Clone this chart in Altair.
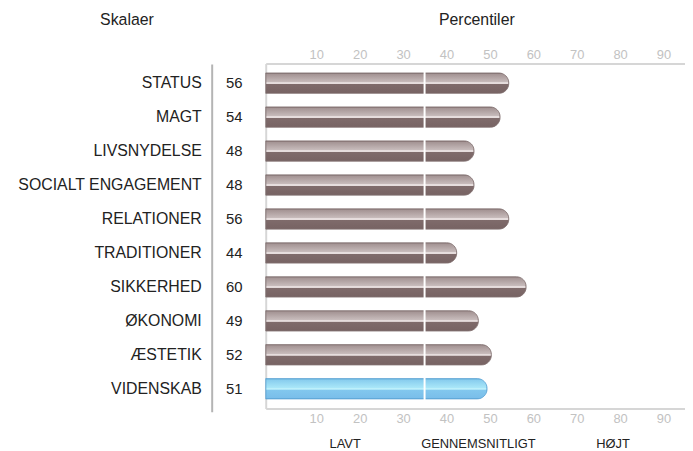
import altair as alt
import pandas as pd

categories = ["STATUS", "MAGT", "LIVSNYDELSE", "SOCIALT ENGAGEMENT", "RELATIONER",
              "TRADITIONER", "SIKKERHED", "ØKONOMI", "ÆSTETIK", "VIDENSKAB"]
values = [56, 54, 48, 48, 56, 44, 60, 49, 52, 51]
highlight = [False] * 9 + [True]
tick_values = [10, 20, 30, 40, 50, 60, 70, 80, 90]
band_labels = ["LAVT", "GENNEMSNITLIGT", "HØJT"]
band_centers = [18.3, 49.0, 80.0]
average_mark = 36.6

FONT = "Liberation Sans"

df = pd.DataFrame({"cat": categories, "val": values, "hl": highlight})
bands = pd.DataFrame({"label": band_labels, "pos": band_centers})

xscale = alt.Scale(domain=[0, 96.6], nice=False, zero=False)
yscale = alt.Scale(domain=categories, paddingInner=0.4, paddingOuter=0.28)

gray_grad = alt.Gradient(
    gradient="linear", x1=0, x2=0, y1=0, y2=1,
    stops=[
        alt.GradientStop(offset=0, color="#8e7e7e"),
        alt.GradientStop(offset=0.07, color="#a59595"),
        alt.GradientStop(offset=0.44, color="#c7bbbb"),
        alt.GradientStop(offset=0.47, color="#e6dddd"),
        alt.GradientStop(offset=0.53, color="#e6dddd"),
        alt.GradientStop(offset=0.56, color="#7f6b6b"),
        alt.GradientStop(offset=1, color="#776363"),
    ],
)
blue_grad = alt.Gradient(
    gradient="linear", x1=0, x2=0, y1=0, y2=1,
    stops=[
        alt.GradientStop(offset=0, color="#5aa8d8"),
        alt.GradientStop(offset=0.07, color="#88cdee"),
        alt.GradientStop(offset=0.44, color="#a8e6f8"),
        alt.GradientStop(offset=0.47, color="#bdf0fb"),
        alt.GradientStop(offset=0.53, color="#bdf0fb"),
        alt.GradientStop(offset=0.56, color="#82c7ee"),
        alt.GradientStop(offset=1, color="#79bde9"),
    ],
)

base = alt.Chart(df)

y_axis = alt.Axis(orient="left", labelPadding=65, ticks=False, labelLimit=0,
                  domainColor="#d6d6d6", domainWidth=2,
                  labelFont=FONT, labelFontSize=16, labelColor="#222222")
y_enc = alt.Y("cat:N", scale=yscale, sort=categories, title=None, axis=y_axis)

gray_bars = base.transform_filter("!datum.hl").mark_bar(
    fill=gray_grad, stroke="#806e6e", strokeWidth=0.8,
    cornerRadiusTopRight=10, cornerRadiusBottomRight=10,
).encode(
    x=alt.X("val:Q", scale=xscale, title=None,
            axis=alt.Axis(orient="top", values=tick_values, ticks=False, grid=False,
                          labelAlign="left", labelPadding=2, labelFont=FONT,
                          labelFontSize=13, labelColor="#c2c2c2",
                          domainColor="#d6d6d6", domainWidth=2)),
    y=y_enc,
)

blue_bars = base.transform_filter("datum.hl").mark_bar(
    fill=blue_grad, stroke="#5aa2d4", strokeWidth=0.8,
    cornerRadiusTopRight=10, cornerRadiusBottomRight=10,
).encode(
    x=alt.X("val:Q", scale=xscale, title=None,
            axis=alt.Axis(orient="bottom", values=tick_values, ticks=False, grid=False,
                          labelAlign="left", labelPadding=4, labelFont=FONT,
                          labelFontSize=13, labelColor="#c2c2c2",
                          domainColor="#d6d6d6", domainWidth=2)),
    y=y_enc,
)

avg_rule = alt.Chart(pd.DataFrame({"v": [average_mark]})).mark_rule(
    color="white", strokeWidth=2
).encode(
    x=alt.X("v:Q", scale=xscale, axis=None),
    y=alt.value(6), y2=alt.value(342),
)

numbers = base.mark_text(align="left", baseline="middle", font=FONT, fontSize=15,
                         color="#222222").encode(
    x=alt.value(-40),
    y=y_enc,
    text=alt.Text("val:Q"),
)

sep = alt.Chart(pd.DataFrame({"a": [0]})).mark_rule(color="#b4b4b4", strokeWidth=2).encode(
    x=alt.value(-54), y=alt.value(1), y2=alt.value(352),
)

band_text = alt.Chart(bands).mark_text(align="center", baseline="middle", font=FONT,
                                        fontSize=13, color="#222222").encode(
    x=alt.X("pos:Q", scale=xscale, axis=None),
    y=alt.value(384),
    text="label:N",
)

titles = alt.Chart(pd.DataFrame({"t": ["Skalaer", "Percentiler"], "px": [-140, 213]})).mark_text(
    align="center", baseline="middle", font=FONT, fontSize=16, color="#222222"
).encode(
    x=alt.X("px:Q", scale=None, axis=None),
    y=alt.value(-44),
    text="t:N",
)

chart = alt.layer(gray_bars, blue_bars, avg_rule, numbers, sep, band_text, titles).properties(
    width=423, height=348,
    autosize=alt.AutoSizeParams(type="none"),
    padding={"left": 260, "top": 54, "right": 0, "bottom": 40},
).configure_view(stroke=None)

chart.save("out.html", embed_options={"renderer": "svg", "actions": False})
